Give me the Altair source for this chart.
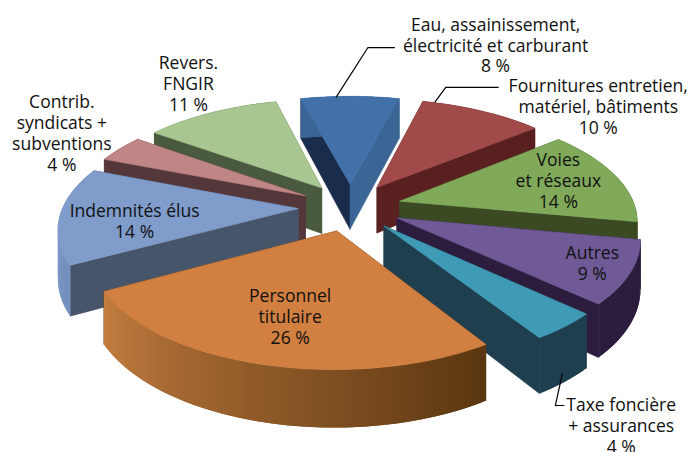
import math
import altair as alt
import pandas as pd

names = ["Eau", "Fournitures", "Voies", "Autres", "Taxe", "Personnel", "Indemnites", "Contrib", "Revers"]
shares = [8, 10, 14, 9, 4, 26, 14, 4, 11]
tops = ["#4271aa", "#a04a4a", "#80a95a", "#6f5a97", "#3f9ab5", "#d27f42", "#7f9ccb", "#c08585", "#a8c690"]
start_walls = ["#1a2c4b", "#5a2020", "#3b4a22", "#2c1d3e", "#1f3f4f", "#5a3812", "#47556b", "#54373a", "#4a5a3e"]
end_walls = ["#3a6595", "#5a2020", "#3b4a22", "#2c1d3e", "#1f3f4f", "#5a3812", "#47556b", "#54373a", "#4a5a3e"]
rim_from = ["#3a6595", "#5a2020", "#3b4a22", "#2c1d3e", "#1f3f4f", "#593610", "#7590bd", "#54373a", "#4a5a3e"]
rim_to = ["#3a6595", "#5a2020", "#3b4a22", "#2c1d3e", "#1f3f4f", "#c47d40", "#7f9ccb", "#54373a", "#4a5a3e"]
draw_order = [0, 8, 1, 7, 2, 6, 3, 4, 5]

label_text = [
    "Eau, assainissement,\nélectricité et carburant\n8 %",
    "Fournitures entretien,\nmatériel, bâtiments\n10 %",
    "Voies\net réseaux\n14 %",
    "Autres\n9 %",
    "Taxe foncière\n+ assurances\n4 %",
    "Personnel\ntitulaire\n26 %",
    "Indemnités élus\n14 %",
    "Contrib.\nsyndicats +\nsubventions\n4 %",
    "Revers.\nFNGIR\n11 %",
]
label_x = [489, 592, 552, 586, 615, 283, 127, 54, 181]
label_y = [17, 79, 153, 246, 399, 289, 204, 95, 56]

leaders = [
    [(337, 97), (369, 47), (396, 47)],
    [(436, 102), (447, 87), (500, 87)],
    [(564, 374), (557, 406), (566, 406)],
]

CX, CY, RX, RY, PERSP, EXPL, DEPTH, FIRST = 351, 207, 236, 108.6, 0.158, 0.22, 47, -14.4


def project(px, pz, drop=0.0):
    w = 1 + PERSP * pz
    return [CX + RX * px / w, CY - RY * pz / w + drop / w]


def mix(a, b, t):
    ca = [int(a[i:i + 2], 16) for i in (1, 3, 5)]
    cb = [int(b[i:i + 2], 16) for i in (1, 3, 5)]
    return "#%02x%02x%02x" % tuple(round(x + (y - x) * t) for x, y in zip(ca, cb))


def poly(ring, color, sw=0.6):
    ring = ring + [ring[0]]
    return {"type": "Feature", "properties": {"c": color, "sw": sw}, "geometry": {"type": "Polygon", "coordinates": [ring]}}


polys = []
cum = [sum(shares[:i]) for i in range(len(shares))]
for i in draw_order:
    a0 = FIRST + cum[i] * 3.6
    a1 = a0 + shares[i] * 3.6
    mid = math.radians((a0 + a1) / 2)
    ox, oz = EXPL * math.sin(mid), EXPL * math.cos(mid)
    steps = max(2, round(a1 - a0))
    ang = [math.radians(a0 + (a1 - a0) * k / steps) for k in range(steps + 1)]
    rim = [(ox + math.sin(t), oz + math.cos(t)) for t in ang]
    apex = (ox, oz)
    for edge, col in ((rim[0], start_walls[i]), (rim[-1], end_walls[i])):
        polys.append(poly([project(*apex), project(*edge), project(*edge, DEPTH), project(*apex, DEPTH)], col))
    for k in range(steps):
        col = mix(rim_from[i], rim_to[i], (k + 0.5) / steps)
        n = min(k + 2, steps)
        polys.append(poly([project(*rim[k]), project(*rim[n]), project(*rim[n], DEPTH), project(*rim[k], DEPTH)], col, 0))
    polys.append(poly([project(*apex)] + [project(*p) for p in rim], tops[i]))

lines = [{"type": "Feature", "properties": {"c": "#000000"},
          "geometry": {"type": "LineString", "coordinates": [list(p) for p in path]}} for path in leaders]


def geo(items):
    return alt.Data(values={"type": "FeatureCollection", "features": items}, format=alt.DataFormat(property="features", type="json"))


faces = alt.Chart(geo(polys)).mark_geoshape().encode(
    fill=alt.Fill("properties.c:N", scale=None, legend=None),
    stroke=alt.Stroke("properties.c:N", scale=None, legend=None),
    strokeWidth=alt.StrokeWidth("properties.sw:Q", scale=None, legend=None),
).project(type="identity", scale=1, translate=[-8, -8])

leader = alt.Chart(geo(lines)).mark_geoshape(filled=False, stroke="#000000", strokeWidth=1.2).project(
    type="identity", scale=1, translate=[-8, -8])

table = pd.DataFrame({"t": label_text, "x": label_x, "y": label_y})
labels = alt.Chart(table).mark_text(font="Open Sans", fontSize=17.6, lineBreak="\n", lineHeight=21, color="#111111", align="center", baseline="middle").encode(
    x=alt.X("x:Q", scale=None, axis=None),
    y=alt.Y("y:Q", scale=None, axis=None),
    text="t:N",
)

chart = alt.layer(faces, leader, labels).properties(width=680, height=436, padding=0, background="#ffffff").configure_view(stroke=None)
chart.save("out.html", embed_options={"renderer": "svg", "actions": False})
